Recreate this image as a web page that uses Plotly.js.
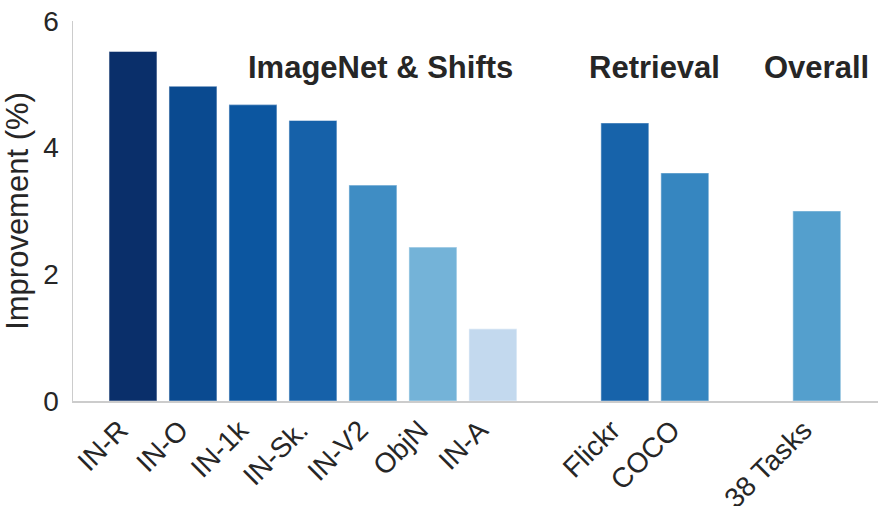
<!DOCTYPE html>
<html>
<head>
<meta charset="utf-8">
<script src="https://cdn.plot.ly/plotly-3.0.1.min.js"></script>
<style>html,body{margin:0;padding:0;background:#fff;}#chart{width:889px;height:506px;}</style>
</head>
<body>
<div id="chart"></div>
<script>
const categories = ["IN-R", "IN-O", "IN-1k", "IN-Sk.", "IN-V2", "ObjN", "IN-A", "Flickr", "COCO", "38 Tasks"];
const groupIndex = [0, 0, 0, 0, 0, 0, 0, 1, 1, 2];
const improvement = [5.52, 4.97, 4.68, 4.43, 3.41, 2.43, 1.14, 4.39, 3.60, 3.00];
const barColors = ["#0a2f6a", "#0a4a90", "#0c56a0", "#1661a9", "#3f8dc4", "#74b3d8", "#c3d9ee", "#1763aa", "#3686c0", "#549fcd"];
const groupLabels = ["ImageNet & Shifts", "Retrieval", "Overall"];

const GROUP_GAP = 1.2;
const xpos = categories.map((c, i) => i + groupIndex[i] * GROUP_GAP);

const textColor = "#262626";
const font = "'Liberation Sans', Arial, Helvetica, sans-serif";

const trace = {
  type: "bar",
  x: xpos,
  y: improvement,
  width: 0.8,
  marker: {color: barColors, line: {color: "rgba(255,255,255,0.45)", width: 1.2}},
  hoverinfo: "skip"
};

const annX = [4.13, (xpos[7] + xpos[8]) / 2, xpos[9]];
const annotations = groupLabels.map((t, i) => ({
  x: annX[i], y: 5.27, xref: "x", yref: "y",
  text: "<b>" + t + "</b>", showarrow: false,
  xanchor: "center", yanchor: "middle",
  font: {family: font, size: 31, color: textColor}
}));

const layout = {
  width: 889, height: 506,
  margin: {l: 73, r: 11, t: 21, b: 105},
  paper_bgcolor: "#fff", plot_bgcolor: "#fff",
  showlegend: false,
  font: {family: font, color: textColor},
  xaxis: {
    range: [-1.0, 12.42],
    tickmode: "array", tickvals: xpos, ticktext: categories,
    tickangle: -45, ticks: "",
    ticklabelshift: -13,
    tickfont: {family: font, size: 28, color: textColor},
    showgrid: false, zeroline: false,
    showline: true, linecolor: "#cccccc", linewidth: 1.5
  },
  yaxis: {
    range: [0, 6],
    tickvals: [0, 2, 4, 6],
    ticks: "", ticklabelstandoff: 7,
    tickfont: {family: font, size: 28, color: textColor},
    showgrid: false, zeroline: false,
    showline: true, linecolor: "#cccccc", linewidth: 1.5,
    title: {text: "Improvement (%)", font: {family: font, size: 31, color: textColor}, standoff: 7}
  },
  annotations: annotations
};

Plotly.newPlot("chart", [trace], layout, {displayModeBar: false, staticPlot: true});
</script>
</body>
</html>
